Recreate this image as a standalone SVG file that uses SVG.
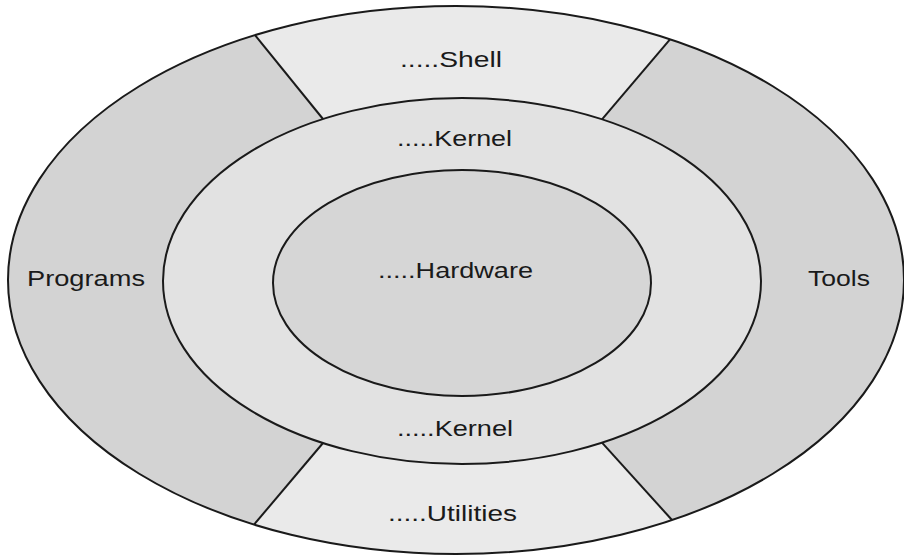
<svg xmlns="http://www.w3.org/2000/svg" width="904" height="556" viewBox="0 0 904 556">
  <style>
    .ring { stroke: #1a1a1a; stroke-width: 2; }
    .band { fill: #d3d3d3; }
    .light { fill: #eaeaea; stroke: none; }
    .kernel { fill: #e2e2e2; }
    .core { fill: #d6d6d6; }
    .divider { stroke: #1a1a1a; stroke-width: 2; fill: none; }
    text { font-family: "Liberation Sans", Arial, sans-serif; font-size: 22px; fill: #1a1a1a; }
  </style>
  <rect width="904" height="556" fill="#ffffff"/>

  <!-- outer band: Programs / Tools -->
  <g id="outer-band">
    <ellipse class="band" cx="456" cy="280" rx="448" ry="274"/>
  </g>

  <!-- Shell segment (top of outer band) -->
  <g id="shell">
    <path class="light" d="M255 35.1 A448 274 0 0 1 670 39.3 L602 119.3 A299 183 0 0 0 323 119 Z"/>
    <text x="400" y="67" textLength="102" lengthAdjust="spacingAndGlyphs">.....Shell</text>
  </g>

  <!-- Utilities segment (bottom of outer band) -->
  <g id="utilities">
    <path class="light" d="M323 443 L254 524.6 A448 274 0 0 0 672 520 L602 442.7 A299 183 0 0 1 323 443 Z"/>
    <text x="388" y="521" textLength="129" lengthAdjust="spacingAndGlyphs">.....Utilities</text>
  </g>

  <g id="programs">
    <text x="27" y="286" textLength="118" lengthAdjust="spacingAndGlyphs">Programs</text>
  </g>

  <g id="tools">
    <text x="808" y="286" textLength="62" lengthAdjust="spacingAndGlyphs">Tools</text>
  </g>

  <!-- Kernel ring -->
  <g id="kernel">
    <ellipse class="kernel ring" cx="462" cy="281" rx="299" ry="183"/>
    <text x="397" y="146" textLength="115" lengthAdjust="spacingAndGlyphs">.....Kernel</text>
    <text x="397" y="436" textLength="116" lengthAdjust="spacingAndGlyphs">.....Kernel</text>
  </g>

  <!-- Hardware core -->
  <g id="hardware">
    <ellipse class="core ring" cx="462" cy="283" rx="189" ry="113"/>
    <text x="378" y="278" textLength="155" lengthAdjust="spacingAndGlyphs">.....Hardware</text>
  </g>

  <!-- segment dividers and outer outline -->
  <g id="connectors">
    <line class="divider" x1="255" y1="35.1" x2="323" y2="119"/>
    <line class="divider" x1="670" y1="39.3" x2="602" y2="119.3"/>
    <line class="divider" x1="323" y1="443" x2="254" y2="524.6"/>
    <line class="divider" x1="602" y1="442.7" x2="672" y2="520"/>
    <ellipse class="divider" cx="456" cy="280" rx="448" ry="274"/>
  </g>
</svg>
